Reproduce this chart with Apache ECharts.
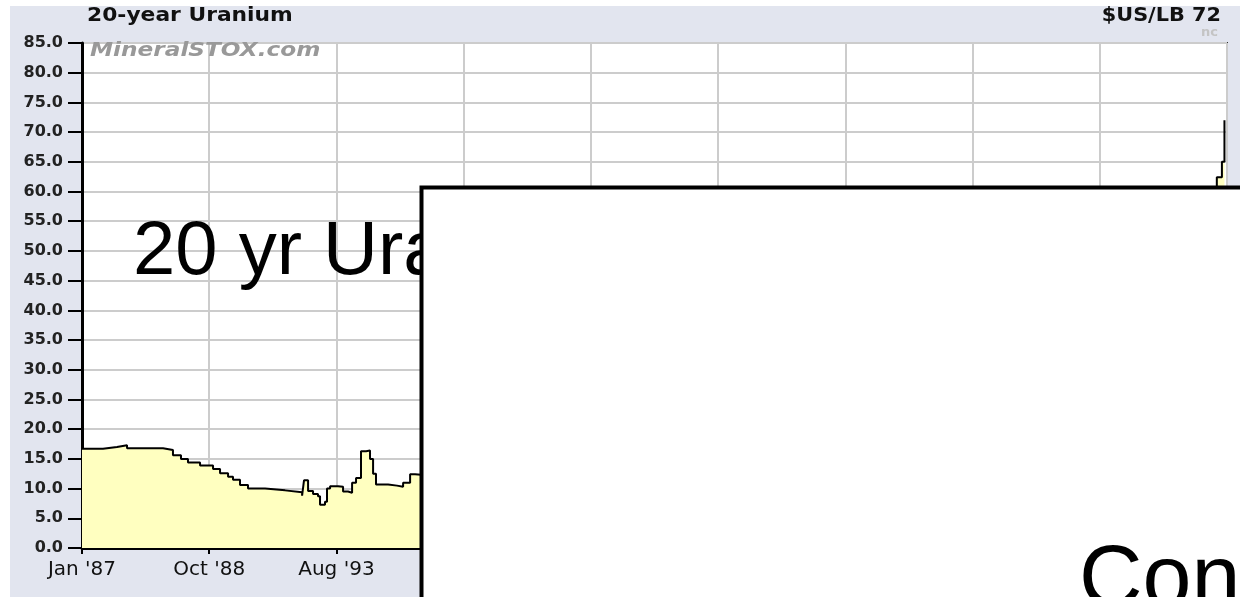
<!DOCTYPE html>
<html>
<head>
<meta charset="utf-8">
<script src="https://cdn.jsdelivr.net/npm/echarts@6/dist/echarts.min.js"></script>
<style>
    html, body { margin: 0; padding: 0; background: #fff; }
    #main { width: 1240px; height: 597px; }
</style>
</head>
<body>
<div id="main"></div>
<script>
    // tick labels along the bottom (the rest sit under the white box)
    var tickLabels = ["Jan '87", "Oct '88", "Aug '93", '', '', '', '', '', '', ''];

    // position on the x axis (one unit per gridline) and price in $US/lb
    var xPos = [0, 0.165, 0.275, 0.354, 0.55, 0.637, 0.715, 0.778, 0.833, 0.928,
        1.03, 1.085, 1.148, 1.187, 1.242, 1.305, 1.439, 1.596, 1.73, 1.745,
        1.777, 1.816, 1.855, 1.871, 1.91, 1.926, 1.95, 2.013, 2.052, 2.091,
        2.123, 2.154, 2.193, 2.233, 2.264, 2.288, 2.311, 2.406, 2.476, 2.524,
        2.579, 2.618, 2.736, 3.05, 3.44, 3.84, 4.23, 4.7, 5.17, 5.64,
        6.12, 6.59, 6.98, 7.37, 7.69, 8.0, 8.32, 8.55, 8.71, 8.83,
        8.88, 8.92, 8.96, 8.98];
    var prices = [16.7, 17.0, 17.3, 16.8, 16.8, 16.5, 15.6, 15.0, 14.4, 13.9,
        13.3, 12.6, 12.0, 11.5, 10.6, 10.0, 9.7, 9.4, 8.8, 11.4,
        9.6, 9.1, 8.7, 7.3, 7.8, 10.0, 10.4, 10.3, 9.5, 9.3,
        11.0, 11.8, 16.3, 16.4, 15.0, 12.5, 10.7, 10.5, 10.3, 11.0,
        12.4, 12.2, 12.0, 11.0, 10.2, 10.0, 9.0, 8.0, 7.2, 9.5,
        10.5, 12.5, 17, 21, 28, 36, 41, 46, 52, 57,
        60, 62.4, 65, 72];

    var seriesData = [];
    for (var i = 0; i < xPos.length; i++) {
        seriesData.push([xPos[i], prices[i]]);
    }

    var chart = echarts.init(document.getElementById('main'), null, { renderer: 'canvas' });
    var option = {
        animation: false,
        backgroundColor: '#ffffff',
        grid: {
            left: 82,
            right: 13,
            top: 43,
            bottom: 49,
            show: true,
            backgroundColor: '#ffffff',
            borderColor: '#333333',
            borderWidth: 2
        },
        xAxis: {
            type: 'value',
            min: 0,
            max: 9,
            interval: 1,
            axisLine: { show: true, onZero: false, lineStyle: { color: '#000', width: 3 } },
            axisTick: { show: true, length: 6, lineStyle: { color: '#000', width: 2 } },
            splitLine: { show: true, lineStyle: { color: '#cccccc', width: 2 } },
            axisLabel: {
                margin: 12,
                color: '#111',
                fontFamily: 'DejaVu Sans',
                fontSize: 20,
                showMaxLabel: true,
                formatter: function (v) { return tickLabels[Math.round(v)] || ''; }
            }
        },
        yAxis: {
            type: 'value',
            min: 0,
            max: 85,
            interval: 5,
            axisLine: { show: true, lineStyle: { color: '#000', width: 3 } },
            axisTick: { show: true, length: 14, lineStyle: { color: '#000', width: 2 } },
            splitLine: { show: true, lineStyle: { color: '#cccccc', width: 2 } },
            axisLabel: {
                margin: 19,
                color: '#222',
                fontFamily: 'DejaVu Sans',
                fontWeight: 'bold',
                fontSize: 16,
                formatter: function (v) { return v.toFixed(1); }
            }
        },
        series: [{
            type: 'line',
            step: 'end',
            symbol: 'none',
            data: seriesData,
            z: 3,
            lineStyle: { color: '#000', width: 2 },
            areaStyle: { color: '#ffffc0', opacity: 1 }
        }],
        graphic: [
            // lavender panel behind the chart
            { type: 'rect', z: -10, shape: { x: 10, y: 6, width: 1230, height: 591 }, style: { fill: '#e2e5ef' } },
            { type: 'text', z: 5, x: 87, y: 16, scaleX: 1.09, style: { text: '20-year Uranium', font: 'bold 20px "DejaVu Sans"', fill: '#111', verticalAlign: 'middle' } },
            { type: 'text', z: 5, x: 1221, y: 16, scaleX: 1.04, style: { text: '$US/LB 72', font: 'bold 20px "DejaVu Sans"', fill: '#111', align: 'right', verticalAlign: 'middle' } },
            { type: 'text', z: 5, x: 1218, y: 33, style: { text: 'nc', font: 'bold 13px "DejaVu Sans"', fill: '#c4c4c4', align: 'right', verticalAlign: 'middle' } },
            { type: 'text', z: 10, x: 90, y: 51, scaleX: 1.16, style: { text: 'MineralSTOX.com', font: 'italic bold 20px "DejaVu Sans"', fill: '#999999', verticalAlign: 'middle' } },
            // slide text and the white box laid over the chart
            { type: 'text', z: 50, x: 133, y: 253, style: { text: '20 yr Uranium', font: '76px "Liberation Sans"', fill: '#000', verticalAlign: 'middle' } },
            { type: 'rect', z: 60, shape: { x: 421.5, y: 187.5, width: 830, height: 420 }, style: { fill: '#ffffff', stroke: '#000', lineWidth: 4 } },
            { type: 'text', z: 70, x: 1079, y: 582, style: { text: 'Con', font: '88px "Liberation Sans"', fill: '#000', verticalAlign: 'middle' } }
        ]
    };
    chart.setOption(option);
</script>
</body>
</html>
